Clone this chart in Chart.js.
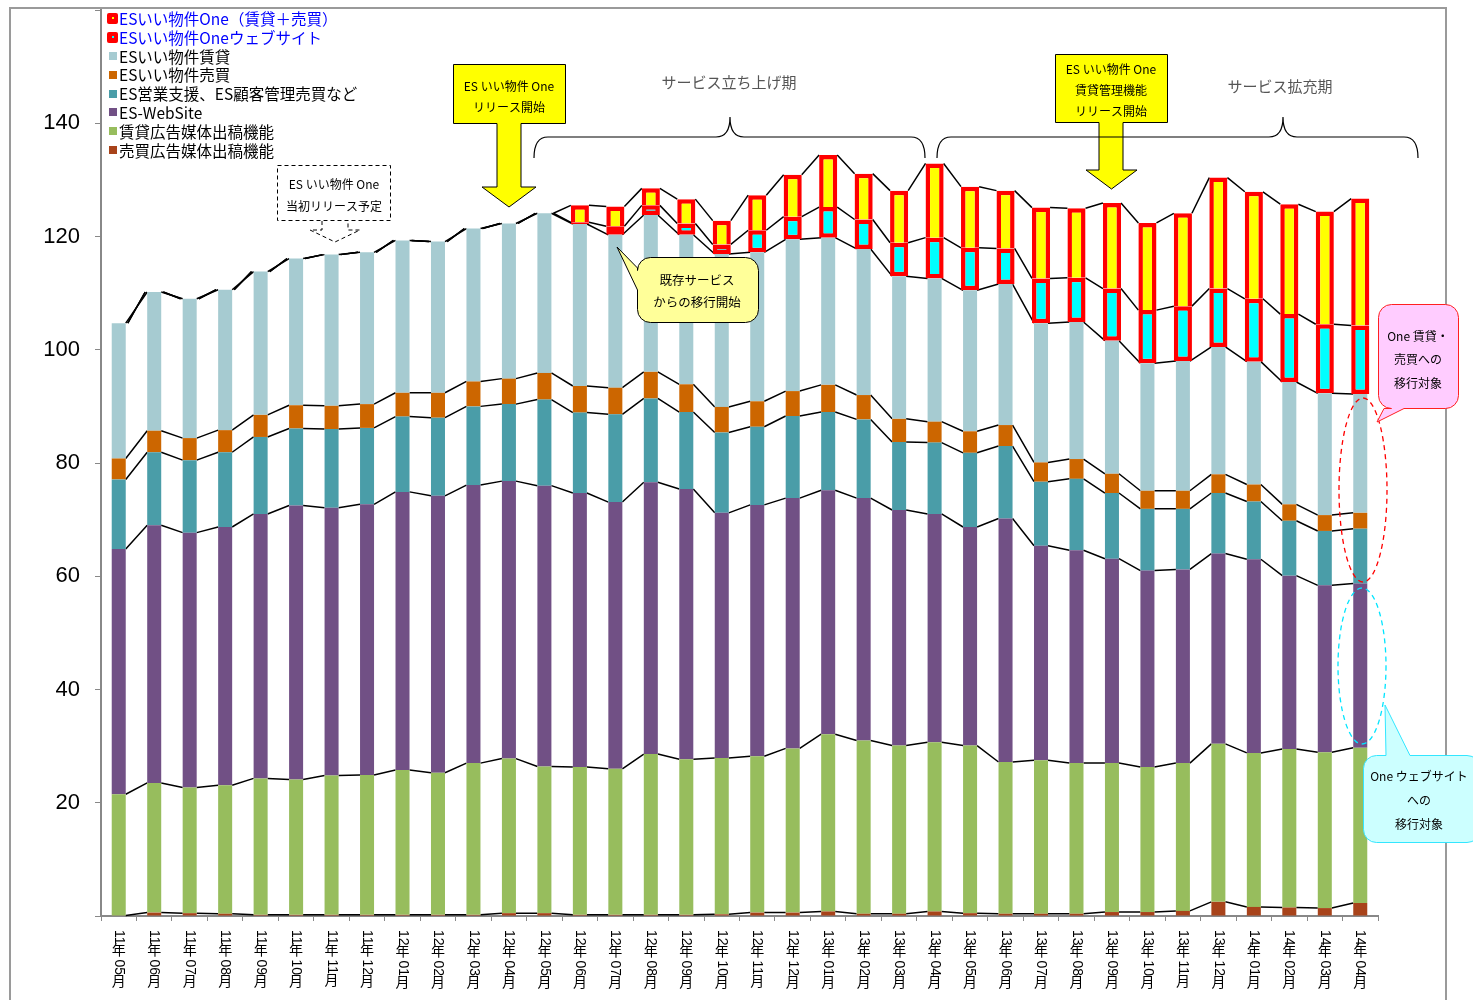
<!DOCTYPE html>
<html lang="ja">
<head>
<meta charset="utf-8">
<title>ESいい物件 契約数推移</title>
<script src="https://cdn.jsdelivr.net/npm/chart.js@4.4.1/dist/chart.umd.min.js"></script>
<style>
  html, body { margin: 0; padding: 0; background: #fff; }
  #wrap { position: relative; width: 1473px; height: 1000px; overflow: hidden; }
  #legend {
    position: absolute; left: 106px; top: 9px;
    font-family: "Noto Sans CJK JP", sans-serif; font-size: 15.5px; line-height: 18.8px;
  }
  #legend .item { display: flex; align-items: center; height: 18.8px; white-space: nowrap; }
  #legend .icon { width: 13px; display: flex; justify-content: center; align-items: center; }
  #legend .sq { width: 8px; height: 8px; }
  #legend .sq.one { width: 11px; height: 11px; border-radius: 2px; background: #f00; position: relative; }
  #legend .sq.one i { position: absolute; left: 4.5px; top: 4.5px; width: 2px; height: 2px; }
</style>
</head>
<body>
<div id="wrap">
  <canvas id="chart" width="1473" height="1000"></canvas>
  <div id="legend"></div>
</div>
<script>
const months = [
  '11年05月', '11年06月', '11年07月', '11年08月', '11年09月', '11年10月', '11年11月', '11年12月',
  '12年01月', '12年02月', '12年03月', '12年04月', '12年05月', '12年06月', '12年07月', '12年08月',
  '12年09月', '12年10月', '12年11月', '12年12月', '13年01月', '13年02月', '13年03月', '13年04月',
  '13年05月', '13年06月', '13年07月', '13年08月', '13年09月', '13年10月', '13年11月', '13年12月',
  '14年01月', '14年02月', '14年03月', '14年04月'
];

// 下から順に積み上げ
const baibaiKokoku = [0.1, 0.6, 0.5, 0.4, 0.2, 0.2, 0.2, 0.2, 0.2, 0.2, 0.2, 0.5, 0.5,
  0.2, 0.2, 0.2, 0.2, 0.3, 0.6, 0.6, 0.8, 0.4, 0.4, 0.8,
  0.5, 0.4, 0.4, 0.4, 0.7, 0.7, 0.9, 2.5, 1.6, 1.5, 1.4, 2.3];
const chintaiKokoku = [21.4, 22.9, 22.2, 22.7, 24.1, 23.9, 24.6, 24.7, 25.6, 25.1, 26.8, 27.3, 25.9,
  26.1, 25.8, 28.4, 27.5, 27.6, 27.6, 29.0, 31.3, 30.6, 29.7, 29.9,
  29.6, 26.8, 27.1, 26.6, 26.3, 25.6, 26.1, 27.9, 27.2, 28.0, 27.5, 27.4];
const webSite = [43.3, 45.5, 45.0, 45.6, 46.7, 48.4, 47.3, 47.8, 49.1, 48.9, 49.1, 49.0, 49.6,
  48.4, 47.1, 48.0, 47.7, 43.3, 44.4, 44.2, 43.1, 42.8, 41.6, 40.3,
  38.6, 43.0, 37.9, 37.6, 36.1, 34.7, 34.2, 33.6, 34.2, 30.6, 29.5, 29.0];
const eigyoShien = [12.3, 12.9, 12.8, 13.2, 13.6, 13.6, 13.9, 13.5, 13.3, 13.8, 13.9, 13.6, 15.2,
  14.2, 15.5, 14.8, 13.6, 14.2, 13.8, 14.5, 13.8, 13.9, 12.0, 12.6,
  13.1, 12.8, 11.3, 12.6, 11.6, 10.9, 10.7, 10.7, 10.2, 9.7, 9.6, 9.7];
const iiBaibai = [3.7, 3.8, 3.9, 3.9, 3.9, 4.1, 4.1, 4.2, 4.2, 4.4, 4.4, 4.5, 4.7,
  4.7, 4.7, 4.7, 4.9, 4.5, 4.5, 4.4, 4.8, 4.3, 4.1, 3.7,
  3.8, 3.7, 3.4, 3.5, 3.4, 3.2, 3.2, 3.3, 3.0, 2.9, 2.8, 2.8];
const iiChintai = [23.9, 24.5, 24.6, 24.8, 25.3, 25.9, 26.7, 26.8, 26.9, 26.7, 27.0, 27.4, 28.2,
  28.6, 27.0, 27.7, 26.4, 27.0, 26.3, 26.8, 26.0, 25.8, 25.2, 25.3,
  24.9, 24.9, 24.6, 24.2, 23.5, 22.5, 22.9, 22.5, 21.7, 21.6, 21.5, 21.0];
const oneWeb = [0, 0, 0, 0, 0, 0, 0, 0, 0, 0, 0, 0, 0,
  0.3, 1.5, 1.7, 2.0, 1.7, 3.9, 4.0, 5.4, 5.2, 5.9, 7.2,
  7.5, 6.3, 7.9, 7.8, 9.2, 9.4, 9.7, 10.3, 11.1, 12.0, 12.2, 12.1];
const oneChintaiBaibai = [0, 0, 0, 0, 0, 0, 0, 0, 0, 0, 0, 0, 0,
  3.0, 3.5, 3.0, 4.3, 4.2, 6.2, 7.4, 9.2, 8.1, 9.2, 13.1,
  10.8, 10.2, 12.5, 12.3, 15.1, 15.4, 16.4, 19.6, 18.9, 19.4, 19.9, 22.4];

const yTicks = [20, 40, 60, 80, 100, 120, 140];

const CJK = '"Noto Sans CJK JP", sans-serif';

// Excel風の区分線（各系列の上端を隣の棒とつなぐ）
const seriesLines = {
  id: 'seriesLines',
  beforeDatasetsDraw(chart) {
    const ctx = chart.ctx;
    ctx.save();
    ctx.strokeStyle = '#000';
    ctx.lineWidth = 1.5;
    chart.data.datasets.forEach((ds, di) => {
      const bars = chart.getDatasetMeta(di).data;
      ctx.beginPath();
      for (let i = 0; i < bars.length - 1; i++) {
        const a = bars[i], b = bars[i + 1];
        ctx.moveTo(a.x + a.width / 2, a.y);
        ctx.lineTo(b.x - b.width / 2, b.y);
      }
      ctx.stroke();
    });
    ctx.restore();
  }
};

// 縦書きの月ラベル（数字は横倒し、漢字は正立）
const verticalLabels = {
  id: 'verticalLabels',
  afterDraw(chart) {
    const ctx = chart.ctx, xs = chart.scales.x;
    ctx.save();
    ctx.fillStyle = '#000';
    ctx.font = '14px "Liberation Sans", ' + CJK;
    months.forEach((label, i) => {
      const x = xs.getPixelForValue(i);
      let y = chart.chartArea.bottom + 14;
      label.match(/\d+|\D/g).forEach(part => {
        if (/\d/.test(part)) {
          const w = ctx.measureText(part).width;
          ctx.save();
          ctx.translate(x, y);
          ctx.rotate(Math.PI / 2);
          ctx.textAlign = 'left';
          ctx.textBaseline = 'middle';
          ctx.fillText(part, 0, 0);
          ctx.restore();
          y += w;
        } else {
          ctx.textAlign = 'center';
          ctx.textBaseline = 'top';
          ctx.fillText(part, x, y);
          y += 15;
        }
      });
    });
    ctx.restore();
  }
};

function wedgeBox(ctx, x0, y0, x1, y1, r, edge, a, b, tx, ty) {
  ctx.beginPath();
  ctx.moveTo(x0 + r, y0);
  if (edge === 'top') { ctx.lineTo(a, y0); ctx.lineTo(tx, ty); ctx.lineTo(b, y0); }
  ctx.arcTo(x1, y0, x1, y1, r);
  ctx.arcTo(x1, y1, x0, y1, r);
  if (edge === 'bottom') { ctx.lineTo(b, y1); ctx.lineTo(tx, ty); ctx.lineTo(a, y1); }
  ctx.arcTo(x0, y1, x0, y0, r);
  if (edge === 'left') { ctx.lineTo(x0, b); ctx.lineTo(tx, ty); ctx.lineTo(x0, a); }
  ctx.arcTo(x0, y0, x1, y0, r);
  ctx.closePath();
}

function arrowBox(ctx, x0, y0, x1, y1, s0, s1, hy, h0, h1, tipY) {
  const cx = (h0 + h1) / 2;
  ctx.beginPath();
  ctx.moveTo(x0, y0); ctx.lineTo(x1, y0); ctx.lineTo(x1, y1);
  ctx.lineTo(s1, y1); ctx.lineTo(s1, hy); ctx.lineTo(h1, hy);
  ctx.lineTo(cx, tipY);
  ctx.lineTo(h0, hy); ctx.lineTo(s0, hy); ctx.lineTo(s0, y1);
  ctx.lineTo(x0, y1);
  ctx.closePath();
}

function textLines(ctx, lines, cx, y, dy) {
  lines.forEach((t, k) => ctx.fillText(t, cx, y + k * dy));
}

function brace(ctx, x0, x1, tip, yLine, yEnd, yTip) {
  const r = 14;
  ctx.beginPath();
  ctx.moveTo(x0, yEnd);
  ctx.quadraticCurveTo(x0, yLine, x0 + r, yLine);
  ctx.lineTo(tip - r, yLine);
  ctx.quadraticCurveTo(tip, yLine, tip, yTip);
  ctx.quadraticCurveTo(tip, yLine, tip + r, yLine);
  ctx.lineTo(x1 - r, yLine);
  ctx.quadraticCurveTo(x1, yLine, x1, yEnd);
  ctx.stroke();
}

const annotations = {
  id: 'annotations',
  afterDraw(chart) {
    const ctx = chart.ctx;
    ctx.save();

    // 外枠
    ctx.strokeStyle = '#9a9a9a';
    ctx.lineWidth = 2;
    ctx.beginPath();
    ctx.moveTo(10, 1000); ctx.lineTo(10, 8); ctx.lineTo(1446, 8); ctx.lineTo(1446, 1000);
    ctx.stroke();

    ctx.textAlign = 'center';
    ctx.textBaseline = 'middle';

    // 当初リリース予定（破線）
    ctx.strokeStyle = '#000';
    ctx.lineWidth = 1;
    ctx.setLineDash([4, 3]);
    ctx.strokeRect(277.5, 165.5, 113, 55);
    ctx.beginPath();
    ctx.moveTo(322, 221); ctx.lineTo(322, 230); ctx.lineTo(310, 230);
    ctx.lineTo(335, 242); ctx.lineTo(360, 230); ctx.lineTo(348, 230); ctx.lineTo(348, 221);
    ctx.stroke();
    ctx.setLineDash([]);
    ctx.fillStyle = '#000';
    ctx.font = '12px ' + CJK;
    textLines(ctx, ['ES いい物件 One', '当初リリース予定'], 334, 184, 22);

    // リリース開始 矢印
    ctx.fillStyle = '#ffff00';
    ctx.strokeStyle = '#000';
    arrowBox(ctx, 453.5, 64.5, 565.5, 123.5, 497, 521, 187, 482, 536, 207);
    ctx.fill(); ctx.stroke();
    arrowBox(ctx, 1055.5, 54.5, 1167.5, 122.5, 1099, 1123, 170, 1086, 1137, 189);
    ctx.fill(); ctx.stroke();
    ctx.fillStyle = '#000';
    textLines(ctx, ['ES いい物件 One', 'リリース開始'], 509, 86, 21);
    textLines(ctx, ['ES いい物件 One', '賃貸管理機能', 'リリース開始'], 1111, 69, 21);

    // 期間
    ctx.fillStyle = '#555';
    ctx.font = '15px ' + CJK;
    ctx.fillText('サービス立ち上げ期', 729, 82);
    ctx.fillText('サービス拡充期', 1280, 86);
    ctx.strokeStyle = '#000';
    ctx.lineWidth = 1.2;
    brace(ctx, 534, 925, 730, 137, 158, 117);
    brace(ctx, 937, 1418, 1283, 137, 158, 117);

    // 既存サービスからの移行開始
    ctx.lineWidth = 1;
    ctx.fillStyle = '#ffff99';
    wedgeBox(ctx, 637.5, 257.5, 758.5, 322.5, 13, 'left', 268, 290, 617, 247);
    ctx.fill(); ctx.stroke();
    ctx.fillStyle = '#000';
    ctx.font = '12.5px ' + CJK;
    textLines(ctx, ['既存サービス', 'からの移行開始'], 697, 280, 22);

    // 移行対象の楕円
    ctx.setLineDash([5, 4]);
    ctx.lineWidth = 1.3;
    ctx.strokeStyle = '#ff0000';
    ctx.beginPath(); ctx.ellipse(1363, 490, 24, 92, 0, 0, Math.PI * 2); ctx.stroke();
    ctx.strokeStyle = '#00e5ff';
    ctx.beginPath(); ctx.ellipse(1362, 666, 24, 78, 0, 0, Math.PI * 2); ctx.stroke();
    ctx.setLineDash([]);

    // One 賃貸・売買への移行対象
    ctx.lineWidth = 1;
    ctx.fillStyle = '#ffccff';
    ctx.strokeStyle = '#ff2020';
    wedgeBox(ctx, 1378.5, 304.5, 1458.5, 408.5, 13, 'bottom', 1384, 1404, 1377, 422);
    ctx.fill(); ctx.stroke();
    ctx.fillStyle = '#000';
    ctx.font = '12px ' + CJK;
    textLines(ctx, ['One 賃貸・', '売買への', '移行対象'], 1418, 336, 23.5);

    // One ウェブサイトへの移行対象
    ctx.fillStyle = '#ccffff';
    ctx.strokeStyle = '#33e6ff';
    wedgeBox(ctx, 1363.5, 755.5, 1480, 842.5, 13, 'top', 1386, 1410, 1385, 705);
    ctx.fill(); ctx.stroke();
    ctx.fillStyle = '#000';
    textLines(ctx, ['One ウェブサイト', 'への', '移行対象'], 1419, 776, 24);

    ctx.restore();
  }
};

const plain = { barPercentage: 0.395, categoryPercentage: 1, borderWidth: 0 };
const boxed = {
  barPercentage: 0.51, categoryPercentage: 1,
  borderColor: '#ff0000',
  borderWidth: c => (c.raw > 0 ? 4.5 : 0)
};

const chart = new Chart(document.getElementById('chart'), {
  type: 'bar',
  data: {
    labels: months,
    datasets: [
      { label: '売買広告媒体出稿機能', data: baibaiKokoku, backgroundColor: '#a8431a', ...plain },
      { label: '賃貸広告媒体出稿機能', data: chintaiKokoku, backgroundColor: '#97bd5d', ...plain },
      { label: 'ES-WebSite', data: webSite, backgroundColor: '#715085', ...plain },
      { label: 'ES営業支援、ES顧客管理売買など', data: eigyoShien, backgroundColor: '#4a9da8', ...plain },
      { label: 'ESいい物件売買', data: iiBaibai, backgroundColor: '#cc6600', ...plain },
      { label: 'ESいい物件賃貸', data: iiChintai, backgroundColor: '#a6cbd1', ...plain },
      { label: 'ESいい物件Oneウェブサイト', data: oneWeb, backgroundColor: '#00ffff', borderSkipped: false, ...boxed },
      { label: 'ESいい物件One（賃貸＋売買）', data: oneChintaiBaibai, backgroundColor: '#ffff00', borderSkipped: 'bottom', ...boxed }
    ]
  },
  options: {
    responsive: false,
    animation: false,
    devicePixelRatio: 1,
    layout: { padding: { left: 10, right: 95, top: 10, bottom: 0 } },
    plugins: {
      legend: { display: false },
      tooltip: { enabled: false }
    },
    scales: {
      x: {
        stacked: true,
        afterFit: s => { s.height = 84; s.paddingLeft = 0; s.paddingRight = 0; },
        ticks: { display: false },
        grid: { drawOnChartArea: false, drawTicks: true, tickLength: 5, color: '#888' },
        border: { color: '#888', width: 2 }
      },
      y: {
        stacked: true,
        min: 0,
        max: 160,
        afterFit: s => { s.width = 91; s.paddingTop = 0; s.paddingBottom = 0; },
        afterBuildTicks: s => { s.ticks = [0].concat(yTicks, [160]).map(v => ({ value: v })); },
        ticks: {
          padding: 15,
          color: '#000',
          font: { family: '"Liberation Sans", Arial, sans-serif', size: 22 },
          callback: v => (yTicks.includes(v) ? v : '')
        },
        grid: { drawOnChartArea: false, drawTicks: true, tickLength: 6, color: '#888' },
        border: { color: '#888', width: 2 }
      }
    }
  },
  plugins: [seriesLines, verticalLabels, annotations]
});

// 凡例（上の系列から順に）
const legendEl = document.getElementById('legend');
chart.data.datasets.slice().reverse().forEach(ds => {
  const item = document.createElement('div');
  item.className = 'item';
  const icon = document.createElement('span');
  icon.className = 'icon';
  const sq = document.createElement('span');
  const isOne = ds.label.includes('One');
  if (isOne) {
    sq.className = 'sq one';
    const dot = document.createElement('i');
    dot.style.background = ds.backgroundColor;
    sq.appendChild(dot);
  } else {
    sq.className = 'sq';
    sq.style.background = ds.backgroundColor;
  }
  icon.appendChild(sq);
  const txt = document.createElement('span');
  txt.textContent = ds.label;
  txt.style.color = isOne ? '#0000ff' : '#000';
  item.appendChild(icon);
  item.appendChild(txt);
  legendEl.appendChild(item);
});
</script>
</body>
</html>
